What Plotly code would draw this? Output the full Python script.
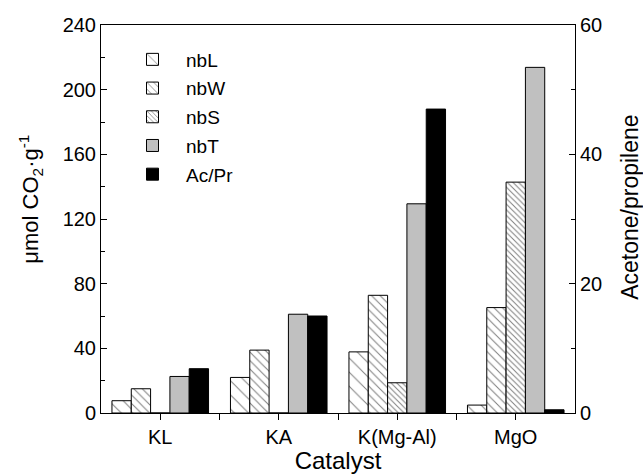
import plotly.graph_objects as go

categories = ["KL", "KA", "K(Mg-Al)", "MgO"]
nbL = [7.6, 22.0, 37.8, 4.9]
nbW = [15.0, 38.9, 72.8, 65.2]
nbS = [0.0, 0.0, 18.7, 142.8]
nbT = [22.6, 61.1, 129.4, 213.8]
ac_pr = [6.85, 15.0, 47.0, 0.5]

x_idx = list(range(len(categories)))
bw = 0.163
start = -2.5 * bw

fig = go.Figure()
series = [
    ("nbL", nbL, dict(bgcolor="white", shape="\\", size=10, solidity=0.1, fgcolor="black")),
    ("nbW", nbW, dict(bgcolor="white", shape="\\", size=6, solidity=0.17, fgcolor="black")),
    ("nbS", nbS, dict(bgcolor="white", shape="\\", size=4, solidity=0.25, fgcolor="black")),
]
for i, (name, vals, pat) in enumerate(series):
    fig.add_trace(go.Bar(
        x=x_idx, y=vals, name=name, width=bw, offset=start + i * bw,
        marker=dict(color="white", pattern=pat, line=dict(color="black", width=1)),
        yaxis="y", legendgroup=name,
    ))
fig.add_trace(go.Bar(
    x=x_idx, y=nbT, name="nbT", width=bw, offset=start + 3 * bw,
    marker=dict(color="#c0c0c0", line=dict(color="black", width=1)),
    yaxis="y", legendgroup="nbT",
))
fig.add_trace(go.Bar(
    x=x_idx, y=ac_pr, name="Ac/Pr", width=bw, offset=start + 4 * bw,
    marker=dict(color="black", line=dict(color="black", width=1)),
    yaxis="y2", legendgroup="acpr",
))

font = "Liberation Sans, Arial, sans-serif"
fig.update_layout(
    width=643, height=474,
    margin=dict(l=101, r=68, t=25, b=61, autoexpand=False),
    paper_bgcolor="white", plot_bgcolor="white",
    barmode="overlay",
    font=dict(family=font, size=19, color="black"),
    showlegend=True,
    legend=dict(x=0.038, y=0.96, xanchor="left", yanchor="top",
                font=dict(size=19), bgcolor="rgba(0,0,0,0)",
                tracegroupgap=1, itemwidth=57),
    xaxis=dict(
        range=[-0.5, 3.5], tickmode="array", tickvals=x_idx, ticktext=categories,
        ticks="outside", ticklen=6, tickcolor="black", showline=True,
        linecolor="black", linewidth=1, mirror=True, showgrid=False, zeroline=False,
        minor=dict(tickmode="array", tickvals=[0.5, 1.5, 2.5], ticks="outside", ticklen=6, tickcolor="black"),
        title=dict(text="Catalyst", font=dict(size=24), standoff=0),
        tickfont=dict(size=20), automargin=False,
    ),
    yaxis=dict(
        range=[0, 240], dtick=40, ticks="inside", ticklen=6, tickcolor="black",
        showline=True, linecolor="black", linewidth=1, showgrid=False, zeroline=False,
        minor=dict(dtick=20, ticks="inside", ticklen=4, tickcolor="black"),
        tickfont=dict(size=20), automargin=False,
    ),
    yaxis2=dict(
        range=[0, 60], dtick=20, overlaying="y", side="right", ticks="inside",
        ticklen=6, tickcolor="black", showline=True, linecolor="black", linewidth=1,
        showgrid=False, zeroline=False,
        minor=dict(dtick=10, ticks="inside", ticklen=4, tickcolor="black"),
        tickfont=dict(size=20), automargin=False,
    ),
    annotations=[
        dict(text="μmol CO<sub>2</sub>·g<sup>-1</sup>", textangle=-90,
             xref="paper", yref="paper", x=-0.148, y=0.552, xanchor="center", yanchor="middle",
             showarrow=False, font=dict(size=22)),
        dict(text="Acetone/propilene", textangle=-90,
             xref="paper", yref="paper", x=1.117, y=0.53, xanchor="center", yanchor="middle",
             showarrow=False, font=dict(size=23)),
    ],
)

fig.write_html("out.html", config={"displayModeBar": False},
               post_script="document.body.style.margin='0px';document.body.style.overflow='hidden';")
